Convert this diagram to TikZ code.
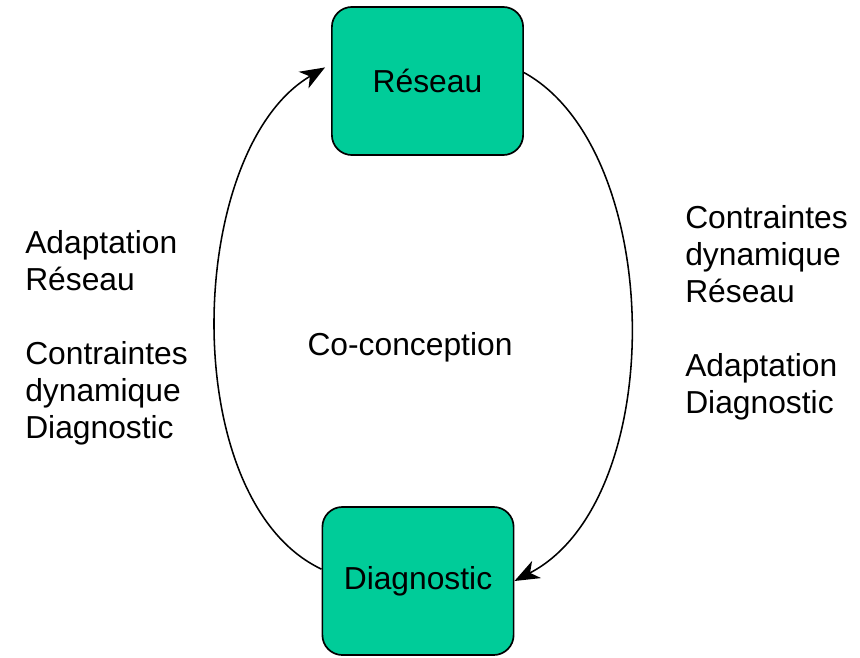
\documentclass[tikz,border=0pt]{standalone}
\usepackage{fontspec}
\setmainfont{Liberation Sans}
\usetikzlibrary{arrows.meta}

\definecolor{boxgreen}{HTML}{00CC99}

\tikzset{
	bloc/.style={draw, line width=1.2pt, fill=boxgreen, rounded corners=0.5cm,
		minimum width=4.78cm, minimum height=3.7cm, inner sep=0pt},
	txt/.style={font=\fontsize{22.6pt}{26.3pt}\selectfont},
	boucle/.style={line width=1.1pt, -{Stealth[length=0.62cm,width=0.48cm,inset=0.18cm]}}
}

\begin{document}
\begin{tikzpicture}[x=0.025cm, y=-0.025cm]
	
	\useasboundingbox (0,0) rectangle (860,657);
	
	% Blocs
	\node[bloc, txt] (reseau) at (427.5,81) {Réseau};
	\node[bloc, txt] (diag) at (418,581) {Diagnostic};
	
	\node[txt] (cocon) at (410,347) {Co-conception};
	
	% Boucle
	\draw[boucle] (diag.173) .. controls (175,500) and (185,150) .. ([xshift=-0.15cm]reseau.172);
	\draw[boucle] (reseau.5) .. controls (665,150) and (670,500) .. (diag.east);
	
	% Textes
	\node[txt, anchor=west, align=left, inner sep=0pt] (gauche) at (25,338)
		{Adaptation\\Réseau\\[26.3pt]Contraintes\\dynamique\\Diagnostic};
	\node[txt, anchor=west, align=left, inner sep=0pt] (droite) at (685,313)
		{Contraintes\\dynamique\\Réseau\\[26.3pt]Adaptation\\Diagnostic};
	
\end{tikzpicture}
\end{document}
